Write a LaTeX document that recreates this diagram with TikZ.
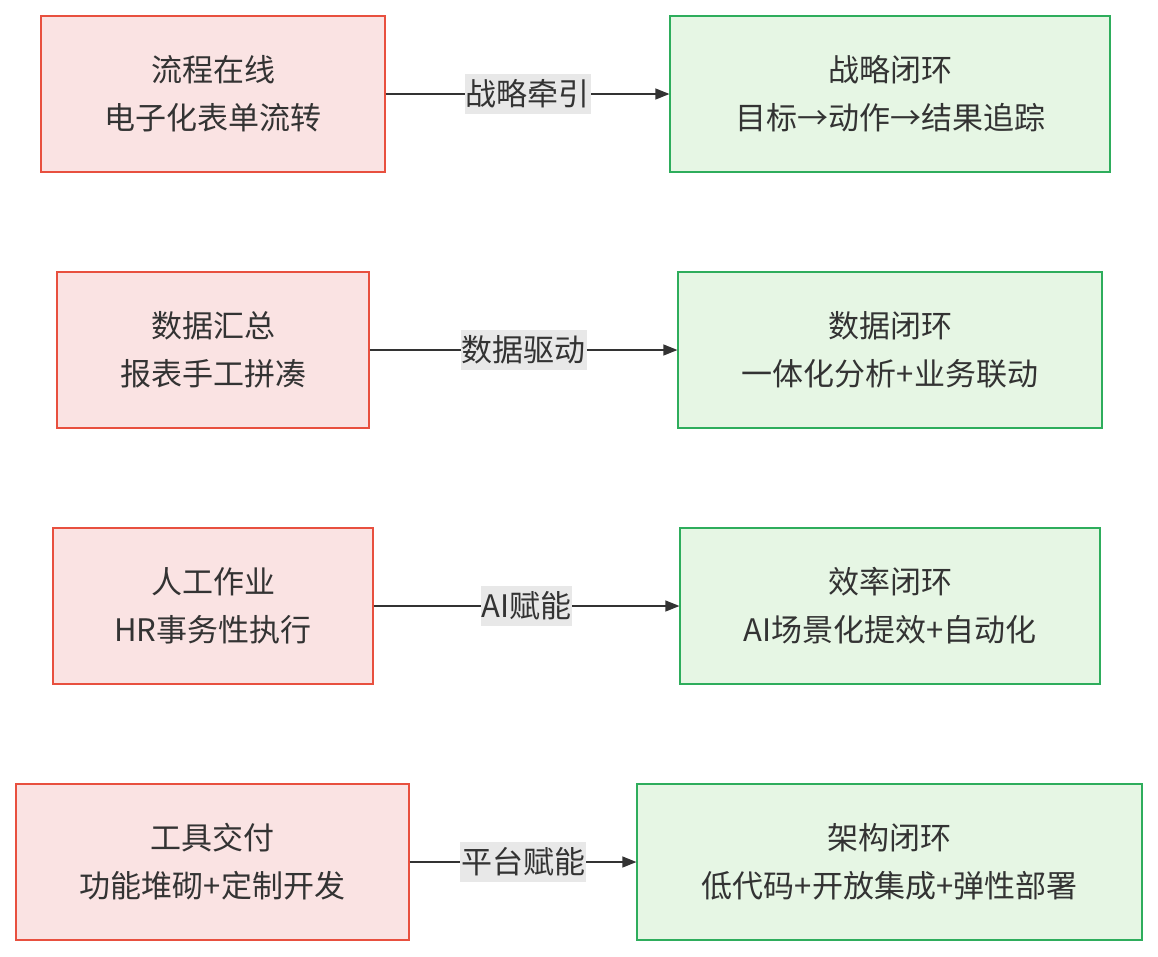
\documentclass[tikz,border=0pt]{standalone}
\usepackage{fontspec}
\setmainfont{Noto Sans CJK SC}
\usetikzlibrary{arrows.meta}
\definecolor{lfill}{HTML}{FAE3E3}
\definecolor{lline}{HTML}{E8503F}
\definecolor{rfill}{HTML}{E6F6E4}
\definecolor{rline}{HTML}{2EAD5C}
\definecolor{lab}{HTML}{E8E8E8}
\definecolor{txt}{HTML}{333333}
\begin{document}
\begin{tikzpicture}[x=1pt,y=-1pt,
  box/.style={draw,line width=1.2pt,inner sep=0pt,minimum height=156pt,align=center,font=\fontsize{31}{48}\selectfont,text=txt},
  lbox/.style={box,fill=lfill,draw=lline},
  rbox/.style={box,fill=rfill,draw=rline},
  elab/.style={fill=lab,inner xsep=1pt,inner ysep=6pt,font=\fontsize{31}{34}\selectfont,text=txt},
  conn/.style={draw=txt,line width=1.2pt,-{Triangle[length=14pt,width=11pt]}}]
\useasboundingbox (0,0) rectangle (1158,956);
\node[lbox,minimum width=344pt] (l1) at (213,94) {流程在线\\电子化表单流转};
\node[rbox,minimum width=440pt] (r1) at (890,94) {战略闭环\\目标→动作→结果追踪};
\node[lbox,minimum width=312pt] (l2) at (213,350) {数据汇总\\报表手工拼凑};
\node[rbox,minimum width=424pt] (r2) at (890,350) {数据闭环\\一体化分析+业务联动};
\node[lbox,minimum width=320pt] (l3) at (213,606) {人工作业\\HR事务性执行};
\node[rbox,minimum width=420pt] (r3) at (890,606) {效率闭环\\AI场景化提效+自动化};
\node[lbox,minimum width=393pt] (l4) at (212.5,862) {工具交付\\功能堆砌+定制开发};
\node[rbox,minimum width=505pt] (r4) at (889.5,862) {架构闭环\\低代码+开放集成+弹性部署};
\draw[conn] (l1) -- node[elab] {战略牵引} (r1);
\draw[conn] (l2) -- node[elab] {数据驱动} (r2);
\draw[conn] (l3) -- node[elab] {AI赋能} (r3);
\draw[conn] (l4) -- node[elab] {平台赋能} (r4);
\end{tikzpicture}
\end{document}
